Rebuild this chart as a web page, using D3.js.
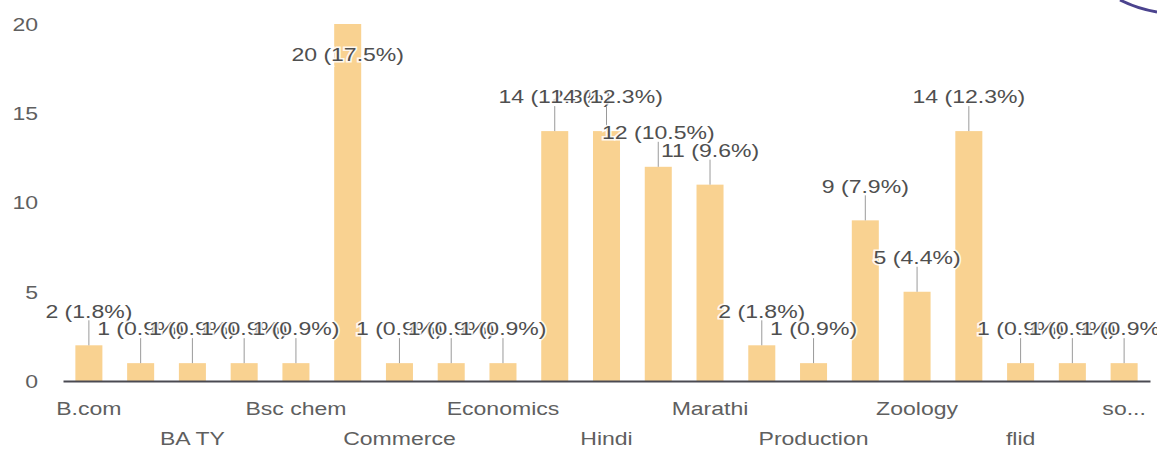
<!DOCTYPE html>
<html>
<head>
<meta charset="utf-8">
<script src="https://cdn.jsdelivr.net/npm/d3@7/dist/d3.min.js"></script>
<style>
  html, body { margin: 0; padding: 0; background: #fff; }
  svg { display: block; }
  text { font-family: "Liberation Sans", Arial, sans-serif; }
</style>
</head>
<body>
<svg id="chart" width="1157" height="455"></svg>
<script>
// ---- data ----
const categories = ["B.com", null, "BA TY", null, "Bsc chem", null, "Commerce", null,
  "Economics", null, "Hindi", null, "Marathi", null, "Production", null,
  "Zoology", null, "flid", null, "so..."];
const values = [2, 1, 1, 1, 1, 20, 1, 1, 1, 14, 14, 12, 11, 2, 1, 9, 5, 14, 1, 1, 1];
const yTickValues = [0, 5, 10, 15, 20];

// ---- layout ----
const W = 1157, H = 455;
const stretch = 1.28;
const fontSize = 18;
const svg = d3.select("#chart");

const total = d3.sum(values);
const x = d3.scaleBand()
  .domain(d3.range(values.length))
  .range([63, 1150])
  .paddingInner(0.478)
  .paddingOuter(0.239);
const y = d3.scaleLinear().domain([0, 20]).range([381, 24]);

// y axis labels
const yAxis = d3.axisLeft(y).tickValues(yTickValues).tickSize(0).tickPadding(0);
const gy = svg.append("g").attr("transform", "translate(38,0)").call(yAxis);
gy.select(".domain").remove();
gy.selectAll("text")
  .attr("x", 0).attr("dy", "0.35em")
  .attr("transform", `scale(${stretch},1)`)
  .attr("text-anchor", "end")
  .attr("fill", "#5f5f5f")
  .style("font-size", fontSize + "px")
  .style("font-family", "'Liberation Sans', Arial, sans-serif");

// bars
svg.append("g").selectAll("rect")
  .data(values)
  .join("rect")
  .attr("x", (d, i) => x(i))
  .attr("y", d => y(d))
  .attr("width", x.bandwidth())
  .attr("height", d => y(0) - y(d))
  .attr("fill", "#f9d291");

// x axis
const xAxis = d3.axisBottom(x).tickSize(0).tickPadding(0)
  .tickFormat(i => categories[i] || "");
const gx = svg.append("g").attr("transform", `translate(0,${y(0)})`).call(xAxis);
gx.select(".domain").attr("stroke", "#4a4a52").attr("stroke-width", 2.2);
gx.selectAll(".tick text")
  .attr("y", 0)
  .attr("dy", "0.35em")
  .attr("transform", d => `translate(0,${(d / 2) % 2 === 0 ? 28 : 58}) scale(${stretch},1)`)
  .attr("fill", "#5f5f5f")
  .style("font-size", fontSize + "px")
  .style("font-family", "'Liberation Sans', Arial, sans-serif");

// data labels with leader lines
const lab = svg.append("g");
values.forEach((v, i) => {
  const cx = x(i) + x.bandwidth() / 2;
  const top = y(v);
  let ly = top - 34;
  let inside = false;
  if (ly < 15) { ly = top + 31; inside = true; }
  if (!inside) {
    lab.append("line")
      .attr("x1", cx).attr("x2", cx)
      .attr("y1", ly + 9).attr("y2", top)
      .attr("stroke", "#9a9a9a").attr("stroke-width", 1);
  }
  lab.append("text")
    .attr("transform", `translate(${cx},${ly}) scale(${stretch},1)`)
    .attr("dy", "0.35em")
    .attr("text-anchor", "middle")
    .attr("fill", "#4f4f4f")
    .attr("stroke", "#ffffff")
    .attr("stroke-width", 3)
    .attr("stroke-opacity", 0.85)
    .attr("paint-order", "stroke")
    .style("font-size", fontSize + "px")
    .text(`${v} (${(v / total * 100).toFixed(1)}%)`);
});

// decorative arc in the top-right corner
svg.append("path")
  .attr("d", "M1120,0 Q1138,9 1157,12")
  .attr("fill", "none")
  .attr("stroke", "#4b438e")
  .attr("stroke-width", 3);
</script>
</body>
</html>
